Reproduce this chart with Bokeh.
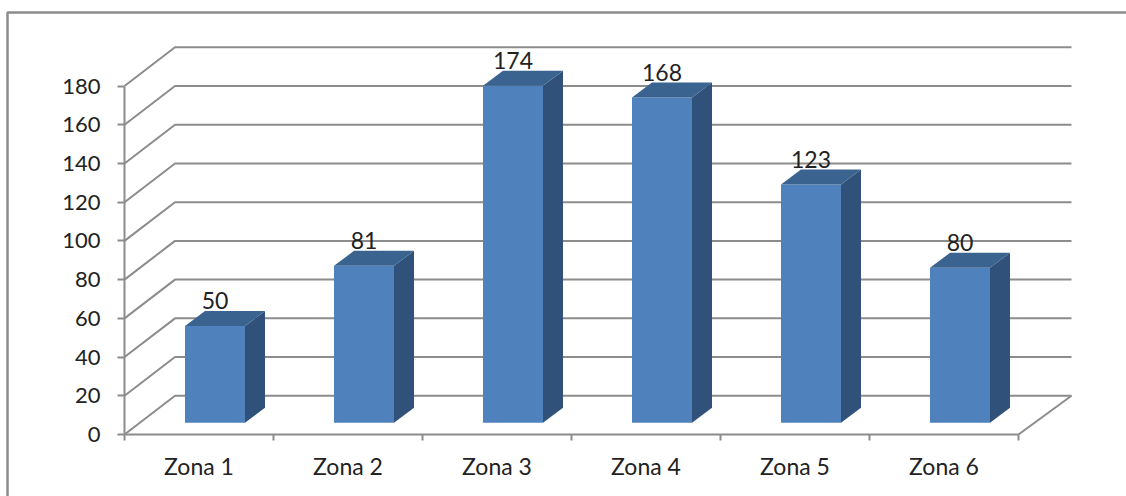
from bokeh.plotting import figure
from bokeh.embed import file_html
from bokeh.resources import INLINE
from bokeh.core.properties import value
from bokeh.models import FixedTicker

categories = ["Zona 1", "Zona 2", "Zona 3", "Zona 4", "Zona 5", "Zona 6"]
values = [50, 81, 174, 168, 123, 80]
y_ticks = [0, 20, 40, 60, 80, 100, 120, 140, 160, 180]

GREY = "#8c8c8c"
TEXT = "#222222"
FONT = "Lato"
W, H = 1126, 496
X0, Y0 = 124.0, 434.0
PX_X = 149.0
PX_Y = 1.936
WALL_DX = 50.5 / PX_X
WALL_DY = 20
WALL_R = 6 + 53 / PX_X
BAR_BASE = 6.1
BAR_OFF = 16 / PX_X
BAR_HALF = 30 / PX_X
SIDE_DX = 20 / PX_X
SIDE_DY = 15 / PX_Y
FRAME_L = (7 - X0) / PX_X
FRAME_T = (Y0 - 12) / PX_Y

p = figure(width=W, height=H, output_backend="svg", toolbar_location=None,
           x_range=(-X0 / PX_X, (W - X0) / PX_X), y_range=(-(H - Y0) / PX_Y, Y0 / PX_Y),
           min_border_left=0, min_border_right=0, min_border_top=0, min_border_bottom=0)
p.grid.visible = False
p.outline_line_color = None
p.background_fill_color = "white"

# outer frame
p.line([FRAME_L, FRAME_L, (W - X0) / PX_X], [-(H - Y0) / PX_Y, FRAME_T, FRAME_T],
       line_color=GREY, line_width=2.5)

# back wall and floor lines
lx, ly = [], []
for t in y_ticks:
    lx.append([0, WALL_DX, WALL_R])
    ly.append([t, t + WALL_DY, t + WALL_DY])
lx.append([len(categories), WALL_R])
ly.append([0, WALL_DY])
p.multi_line(lx, ly, line_color=GREY, line_width=2)

# axes
ya = p.yaxis[0]
ya.fixed_location = 0
ya.ticker = FixedTicker(ticks=y_ticks)
ya.bounds = (y_ticks[0], y_ticks[-1])
ya.axis_line_color = GREY
ya.axis_line_width = 2
ya.major_tick_line_color = GREY
ya.major_tick_line_width = 2
ya.major_tick_out = 7
ya.major_tick_in = 0
ya.minor_tick_line_color = None
ya.major_label_text_font = FONT
ya.major_label_text_font_size = "22px"
ya.major_label_text_color = TEXT
ya.major_label_standoff = 17

centers = [i + 0.5 for i in range(len(categories))]
xa = p.xaxis[0]
xa.fixed_location = 0
xa.ticker = FixedTicker(ticks=centers, minor_ticks=list(range(len(categories) + 1)))
xa.major_label_overrides = {c: n for c, n in zip(centers, categories)}
xa.bounds = (0, len(categories))
xa.axis_line_color = GREY
xa.axis_line_width = 2
xa.major_tick_line_color = None
xa.major_tick_out = 0
xa.major_tick_in = 0
xa.minor_tick_line_color = GREY
xa.minor_tick_line_width = 2
xa.minor_tick_out = 6
xa.minor_tick_in = 0
xa.major_label_text_font = FONT
xa.major_label_text_font_size = "23px"
xa.major_label_text_color = TEXT
xa.major_label_standoff = 11

# bars
left = [c + BAR_OFF - BAR_HALF for c in centers]
right = [c + BAR_OFF + BAR_HALF for c in centers]
tops = [BAR_BASE + v for v in values]
p.quad(left=left, right=right, bottom=BAR_BASE, top=tops, fill_color="#4F81BD", line_color=None)
p.patches([[r, r + SIDE_DX, r + SIDE_DX, r] for r in right],
          [[BAR_BASE, BAR_BASE + SIDE_DY, t + SIDE_DY, t] for t in tops],
          fill_color="#30527A", line_color=None)
p.patches([[l, l + SIDE_DX, r + SIDE_DX, r] for l, r in zip(left, right)],
          [[t, t + SIDE_DY, t + SIDE_DY, t] for t in tops],
          fill_color="#3B6390", line_color=None)

# value labels
p.text([c + BAR_OFF for c in centers], [t + 13 for t in tops],
       text=[str(v) for v in values], text_align="center", text_baseline="middle",
       text_font=value(FONT), text_font_size="23px", text_color=TEXT)

open("out.html", "w").write(file_html(p, INLINE))
